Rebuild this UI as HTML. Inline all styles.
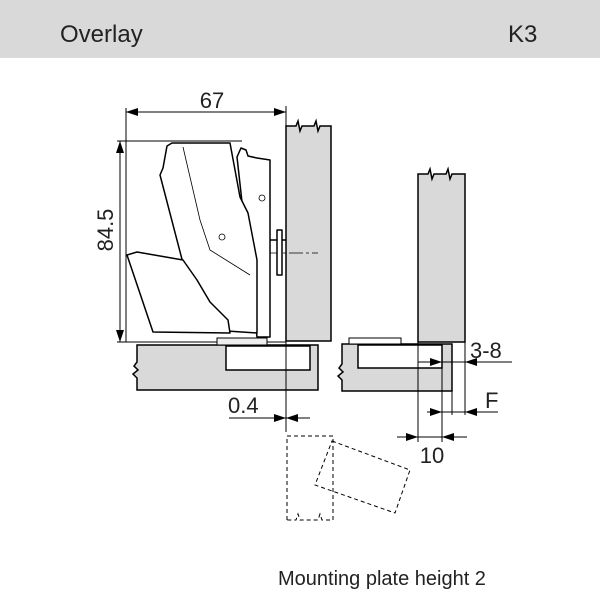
<!DOCTYPE html>
<html><head><style>
html,body{margin:0;padding:0;background:#fff;width:600px;height:600px;overflow:hidden}
svg{display:block;font-family:"Liberation Sans",sans-serif}
</style></head><body>
<svg width="600" height="600" viewBox="0 0 600 600">
<defs>
<marker id="a" markerWidth="12" markerHeight="8" refX="12" refY="4" orient="auto" markerUnits="userSpaceOnUse"><path d="M0,0 L12,4 L0,8Z" fill="#000"/></marker>
</defs>
<rect x="0" y="0" width="600" height="58" fill="#d9d9d9"/>
<text x="60" y="42" font-size="24" fill="#222">Overlay</text>
<text x="508" y="42" font-size="24" fill="#222">K3</text>

<g stroke="#000" stroke-width="1" fill="none">
<!-- dim 67 -->
<line x1="126" y1="112" x2="286" y2="112"/>
<line x1="140" y1="112" x2="126" y2="112" marker-end="url(#a)"/>
<line x1="272" y1="112" x2="286" y2="112" marker-end="url(#a)"/>
<line x1="126" y1="108" x2="126" y2="342"/>
<line x1="286" y1="106" x2="286" y2="126"/>
<!-- dim 84.5 -->
<line x1="120" y1="141" x2="120" y2="342"/>
<line x1="120" y1="155" x2="120" y2="141" marker-end="url(#a)"/>
<line x1="120" y1="328" x2="120" y2="342" marker-end="url(#a)"/>
<line x1="117" y1="141" x2="242" y2="141"/>
<line x1="117" y1="342" x2="286" y2="342"/>
</g>
<text x="212" y="108" font-size="22" text-anchor="middle" fill="#222">67</text>
<text transform="translate(113,230) rotate(-90)" font-size="22" text-anchor="middle" fill="#222">84.5</text>

<!-- left door -->
<path d="M286,126 L296,126 298,121 300,131 302,126 314,126 316,121 318,131 320,126 331,126 331,341 286,341Z" fill="#d9d9d9" stroke="#000" stroke-width="1.5"/>
<line x1="266" y1="253" x2="318" y2="253" stroke="#000" stroke-width="0.7" stroke-dasharray="14,3,3,3"/>
<!-- left cabinet -->
<path d="M137,345 L318,345 318,390 137,390 137,378 133,374 138,370 134,366 137,362Z" fill="#d9d9d9" stroke="#000" stroke-width="1.5"/>
<rect x="226" y="346" width="84" height="24" fill="#fff" stroke="#000" stroke-width="1.5"/>
<rect x="217" y="338" width="50" height="7" fill="#eee" stroke="#000" stroke-width="1"/>
<line x1="286" y1="340" x2="286" y2="432" stroke="#000" stroke-width="1"/>

<!-- hinge -->
<g stroke="#000" stroke-width="1.5" fill="#fff" stroke-linejoin="round">
<path d="M237,157 L241,148 L246,150 L248,156 L257,158 L270,160 L270,337 L257,337Z"/>
<path d="M167,146 L172,143 L230,143 L240,197 L248,213 L257,260 L257,333 L212,330 L190,290 L160,175 L163,168 Z"/>
<path d="M127,255 L137,252 L183,260 L197,280 L210,302 L228,320 L230,333 L153,332 Z"/>
<line x1="270" y1="240" x2="286" y2="240"/>
<rect x="277" y="230" width="5" height="45"/>
</g>
<g stroke="#000" stroke-width="0.8" fill="none">
<path d="M183,147 L200,220 L210,250 L250,275"/>
<circle cx="262" cy="198" r="3"/>
<circle cx="222" cy="237" r="3"/>
</g>

<!-- right door -->
<path d="M418,174 L428,174 430,169 432,179 434,174 446,174 448,169 450,179 452,174 465,174 465,342 418,342Z" fill="#d9d9d9" stroke="#000" stroke-width="1.5"/>
<!-- right cabinet -->
<path d="M342,344 L452,344 452,391 342,391 342,380 338,376 343,372 339,368 342,364Z" fill="#d9d9d9" stroke="#000" stroke-width="1.5"/>
<rect x="358" y="345" width="84" height="23" fill="#fff" stroke="#000" stroke-width="1.5"/>
<rect x="349" y="338" width="52" height="6" fill="#fff" stroke="#000" stroke-width="1"/>

<g stroke="#000" stroke-width="1" fill="none">
<line x1="418" y1="342" x2="418" y2="442"/>
<line x1="442" y1="345" x2="442" y2="442"/>
<line x1="452" y1="391" x2="452" y2="415"/>
<line x1="465" y1="342" x2="465" y2="415"/>
<line x1="418" y1="362" x2="512" y2="362"/>
<line x1="428" y1="362" x2="442" y2="362" marker-end="url(#a)"/>
<line x1="479" y1="362" x2="465" y2="362" marker-end="url(#a)"/>
<line x1="427" y1="412" x2="498" y2="412"/>
<line x1="430" y1="412" x2="442" y2="412" marker-end="url(#a)"/>
<line x1="481" y1="412" x2="465" y2="412" marker-end="url(#a)"/>
<line x1="397" y1="437" x2="467" y2="437"/>
<line x1="404" y1="437" x2="418" y2="437" marker-end="url(#a)"/>
<line x1="456" y1="437" x2="442" y2="437" marker-end="url(#a)"/>
<line x1="229" y1="418" x2="310" y2="418"/>
<line x1="270" y1="418" x2="286" y2="418" marker-end="url(#a)"/>
<line x1="302" y1="418" x2="286" y2="418" marker-end="url(#a)"/>
</g>
<text x="470" y="358" font-size="22" fill="#222">3-8</text>
<text x="485" y="408" font-size="22" fill="#222">F</text>
<text x="432" y="463" font-size="22" text-anchor="middle" fill="#222">10</text>
<text x="228" y="413" font-size="22" fill="#222">0.4</text>

<g stroke="#000" stroke-width="1" fill="none" stroke-dasharray="4,3">
<path d="M287,520 L287,436 L333,436 L333,520 L322,520 L320,514 L318,520 L300,520 L298,514 L296,520 Z"/>
<path d="M332,441 L410,470 L395,513 L315,485 Z"/>
</g>

<text x="278" y="585" font-size="20" fill="#222">Mounting plate height 2</text>
</svg>
</body></html>
